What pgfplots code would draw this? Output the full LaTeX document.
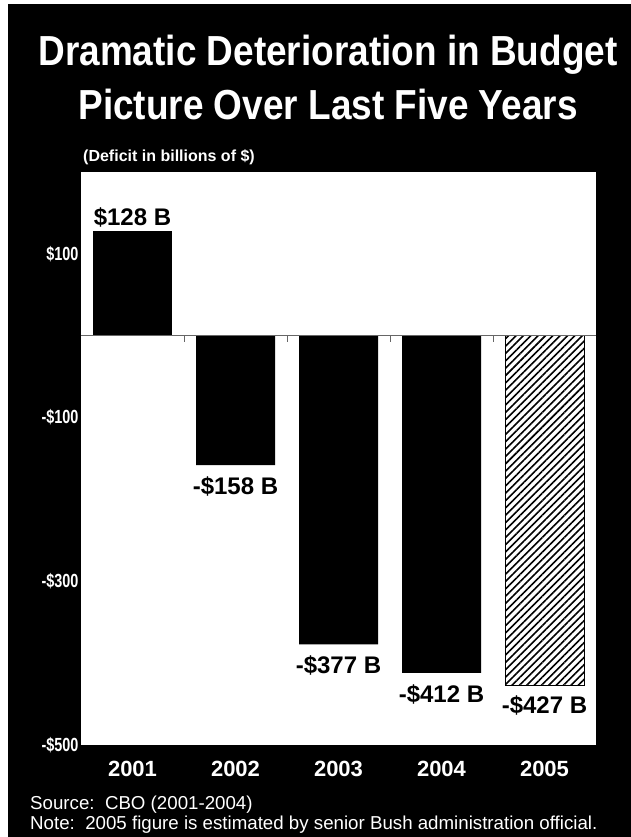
\documentclass[border=0pt]{standalone}
\usepackage{pgfplots}
\pgfplotsset{compat=1.18}
\usepackage{fontspec}
\setmainfont{Liberation Sans}
\newfontfamily\titlefont[FakeStretch=0.88]{Liberation Sans}
\newfontfamily\tickfont[FakeStretch=0.76]{Liberation Sans}
\usetikzlibrary{patterns.meta}
\begin{document}
\begin{tikzpicture}[x=1pt,y=1pt]
\useasboundingbox (-81,-92) rectangle (550,745);
\fill[white] (-81,-92) rectangle (550,745);
\fill[black] (-73,-92) rectangle (550,741);
\begin{axis}[at={(0,0)}, anchor=south west, scale only axis,
  width=515pt, height=573pt,
  xmin=-0.5, xmax=4.5, ymin=-500, ymax=200,
  axis background/.style={fill=white},
  axis line style={draw=none},
  ytick={100,-100,-300,-500},
  yticklabels={\$100,-\$100,-\$300,-\$500},
  yticklabel style={font=\tickfont\bfseries\fontsize{19}{19}\selectfont, text=white, xshift=1pt},
  xtick={0,1,2,3,4},
  xticklabels={2001,2002,2003,2004,2005},
  xticklabel style={font=\bfseries\fontsize{22}{22}\selectfont, text=white, yshift=-13pt},
  major tick length=0pt,
  ybar, bar width=79pt, bar shift=0pt,
  nodes near coords, point meta=explicit symbolic,
  nodes near coords style={font=\bfseries\fontsize{24}{24}\selectfont, text=black},
  clip=false,
]
\addplot[fill=black, draw=none] coordinates {
  (0,128) [\$128 B]
};
\addplot[fill=black, draw=none, nodes near coords style={anchor=north, yshift=-8pt}] coordinates {
  (1,-158) [-\$158 B]
  (2,-377) [-\$377 B]
  (3,-412) [-\$412 B]
};
\addplot[draw=black, line width=0.8pt, pattern={Lines[angle=45,distance=5.2pt,line width=1.6pt]}, pattern color=black, nodes near coords style={anchor=north, yshift=-7pt}] coordinates {
  (4,-427) [-\$427 B]
};
\draw[black!60, line width=0.8pt] (axis cs:-0.5,0) -- (axis cs:4.5,0);
\pgfplotsinvokeforeach{0.5,1.5,2.5,3.5}{\draw[black!60, line width=0.8pt] (axis cs:#1,0) -- (axis cs:#1,-8);}
\end{axis}
\node[text=white, anchor=base, font=\titlefont\bfseries\fontsize{42}{42}\selectfont] at (247,679) {Dramatic Deterioration in Budget};
\node[text=white, anchor=base, font=\titlefont\bfseries\fontsize{42}{42}\selectfont] at (247,625) {Picture Over Last Five Years};
\node[text=white, anchor=base west, inner sep=0pt, font=\bfseries\fontsize{16}{16}\selectfont] at (2,583) {(Deficit in billions of \$)};
\node[text=white, anchor=base west, inner sep=0pt, font=\fontsize{18.7}{18.7}\selectfont] at (-51,-64) {Source:\ \ CBO (2001-2004)};
\node[text=white, anchor=base west, inner sep=0pt, font=\fontsize{18.7}{18.7}\selectfont] at (-51,-84) {Note:\ \ 2005 figure is estimated by senior Bush administration official.};
\end{tikzpicture}
\end{document}
